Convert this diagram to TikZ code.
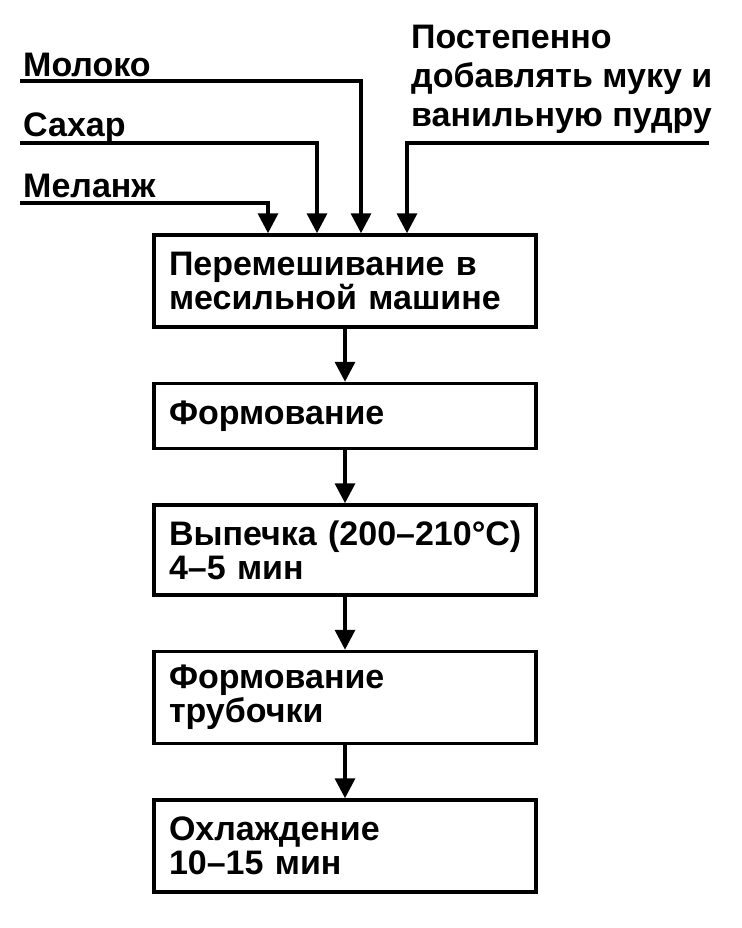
\documentclass[tikz,border=0pt]{standalone}
\usepackage{fontspec}
\setmainfont{Liberation Sans}
\usetikzlibrary{positioning,arrows.meta}

\tikzset{
  box/.style={draw, line width=3.5pt, text width=352pt, inner xsep=15pt, align=left, minimum height=92pt},
  lbl/.style={inner sep=0pt, align=left},
  arr/.style={line width=3.5pt, -{Triangle[width=20pt,length=20pt]}}
}

\begin{document}
\begin{tikzpicture}[x=1pt, y=-1pt, node distance = 53pt, font=\fontsize{34}{34}\selectfont\bfseries]
  \useasboundingbox (0,0) rectangle (741,928);
  \node (b1)[box] at (345,281) {Перемешивание в\\месильной машине};
  \node (b2)[box, minimum height=65pt, below = of b1] {Формование};
  \node (b3)[box, minimum height=90pt, below = of b2] {\mbox{Выпечка (200--210°C)}\\4--5 мин};
  \node (b4)[box, below = of b3] {Формование\\трубочки};
  \node (b5)[box, below = of b4] {Охлаждение\\10--15 мин};
  % inputs
  \coordinate (mol) at (20,81);
  \coordinate (sah) at (20,143);
  \coordinate (mel) at (20,203);
  \coordinate (muk) at (709,143);
  \node (mol-l)[lbl, anchor=base west] at (23,77) {Молоко};
  \node (sah-l)[lbl, anchor=base west] at (23,137) {Сахар};
  \node (mel-l)[lbl, anchor=base west] at (23,197) {Меланж};
  \node (muk-l)[lbl, anchor=north west, font=\fontsize{34}{39}\selectfont\bfseries] at (411,25) {Постепенно\\добавлять муку и\\ванильную пудру};
  \draw[arr] (mel) -| ([xshift=-77pt]b1.north);
  \draw[arr] (sah) -| ([xshift=-28pt]b1.north);
  \draw[arr] (mol) -| ([xshift=16pt]b1.north);
  \draw[arr] (muk) -| ([xshift=62pt]b1.north);
  \draw[arr] (b1)--(b2);
  \draw[arr] (b2)--(b3);
  \draw[arr] (b3)--(b4);
  \draw[arr] (b4)--(b5);
\end{tikzpicture}
\end{document}
